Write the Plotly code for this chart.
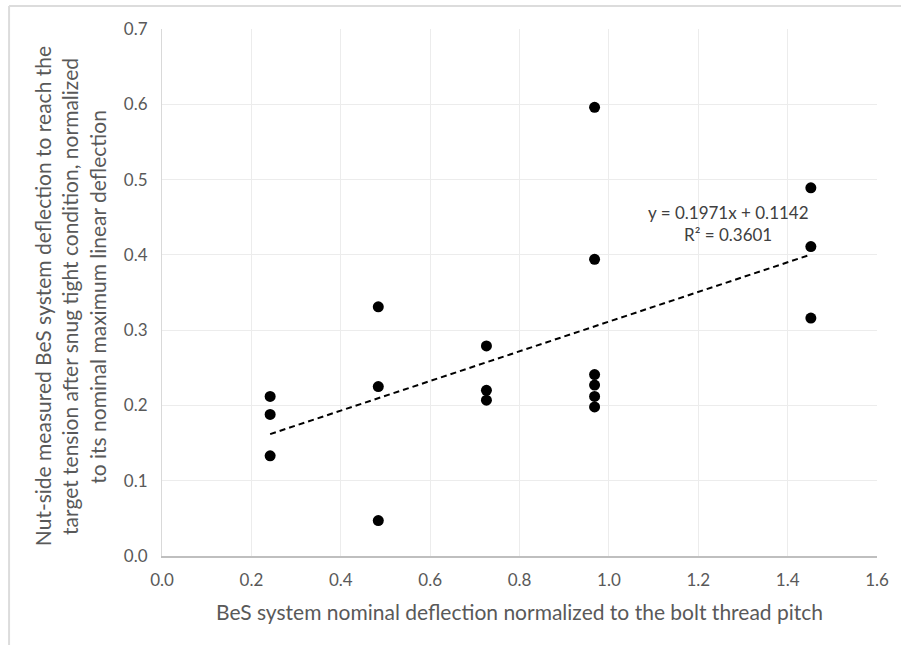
import plotly.graph_objects as go

# ---- data ----
x_nominal = [0.242, 0.242, 0.242,
             0.484, 0.484, 0.484,
             0.726, 0.726, 0.726,
             0.968, 0.968, 0.968, 0.968, 0.968, 0.968,
             1.452, 1.452, 1.452]
y_measured = [0.212, 0.188, 0.133,
              0.331, 0.225, 0.047,
              0.279, 0.220, 0.207,
              0.596, 0.394, 0.241, 0.227, 0.212, 0.198,
              0.489, 0.411, 0.316]

trend_slope = 0.1971
trend_intercept = 0.1142
r_squared = 0.3601

x_ticks = [0.0, 0.2, 0.4, 0.6, 0.8, 1.0, 1.2, 1.4, 1.6]
y_ticks = [0.0, 0.1, 0.2, 0.3, 0.4, 0.5, 0.6, 0.7]

x_title = "BeS system nominal deflection normalized to the bolt thread pitch"
y_title_lines = [
    "Nut-side measured BeS system deflection to reach the",
    "target tension after snug tight condition, normalized",
    "to its nominal maximum linear deflection",
]

# ---- figure ----
FONT = "Lato, Open Sans, sans-serif"
GRAY = "#595959"

trend_x = [min(x_nominal), max(x_nominal)]
trend_y = [trend_slope * v + trend_intercept for v in trend_x]

fig = go.Figure()
fig.add_trace(go.Scatter(
    x=trend_x, y=trend_y, mode="lines",
    line=dict(color="black", width=2, dash="6px,4px"),
    hoverinfo="skip", showlegend=False,
))
fig.add_trace(go.Scatter(
    x=x_nominal, y=y_measured, mode="markers",
    marker=dict(color="black", size=11, line=dict(width=0)),
    showlegend=False,
))

fig.update_layout(
    width=901, height=645,
    margin=dict(l=162, r=19, t=29, b=89),
    paper_bgcolor="white", plot_bgcolor="white",
    font=dict(family=FONT, color=GRAY),
    xaxis=dict(
        range=[0, 1.6], tickvals=x_ticks,
        ticktext=[f"{v:.1f}" for v in x_ticks],
        showgrid=True, gridcolor="#ececec", gridwidth=1,
        zeroline=False, showline=True, linecolor="#bfbfbf", linewidth=1.5,
        ticks="", tickfont=dict(size=17, color=GRAY, family=FONT),
        ticklabelstandoff=8,
        title=dict(text=x_title, font=dict(size=21, color=GRAY, family=FONT), standoff=16),
    ),
    yaxis=dict(
        range=[0, 0.7], tickvals=y_ticks,
        ticktext=[f"{v:.1f}" for v in y_ticks],
        showgrid=True, gridcolor="#ececec", gridwidth=1,
        zeroline=False, showline=True, linecolor="#d9d9d9", linewidth=1,
        ticks="", tickfont=dict(size=17, color=GRAY, family=FONT),
        ticklabelstandoff=10,
    ),
)

# multi-line rotated y-axis title
y_line_x = [-0.1667, -0.1292, -0.0903]
for txt, xp in zip(y_title_lines, y_line_x):
    fig.add_annotation(
        text=txt, xref="paper", yref="paper", x=xp, y=0.4927,
        xanchor="center", yanchor="middle", textangle=-90, showarrow=False,
        font=dict(size=21, color=GRAY, family=FONT),
    )

# trendline equation
fig.add_annotation(
    text=f"y = {trend_slope}x + {trend_intercept}", x=1.2667, y=0.4565,
    xref="x", yref="y", showarrow=False, xanchor="center", yanchor="middle",
    font=dict(size=17, color="#404040", family=FONT),
)
fig.add_annotation(
    text=f"R² = {r_squared}", x=1.2667, y=0.4273,
    xref="x", yref="y", showarrow=False, xanchor="center", yanchor="middle",
    font=dict(size=17, color="#404040", family=FONT),
)

# outer chart border (top and left visible)
border = dict(color="#dcdcdc", width=2)
fig.add_shape(type="line", xref="paper", yref="paper",
              x0=-0.2139, x1=1.05, y0=1.0437, y1=1.0437, line=border)
fig.add_shape(type="line", xref="paper", yref="paper",
              x0=-0.2139, x1=-0.2139, y0=1.0437, y1=-0.2, line=border)

fig.write_html("out.html",
               config={"displayModeBar": False},
               post_script="document.body.style.margin='0';document.body.style.overflow='hidden';")
